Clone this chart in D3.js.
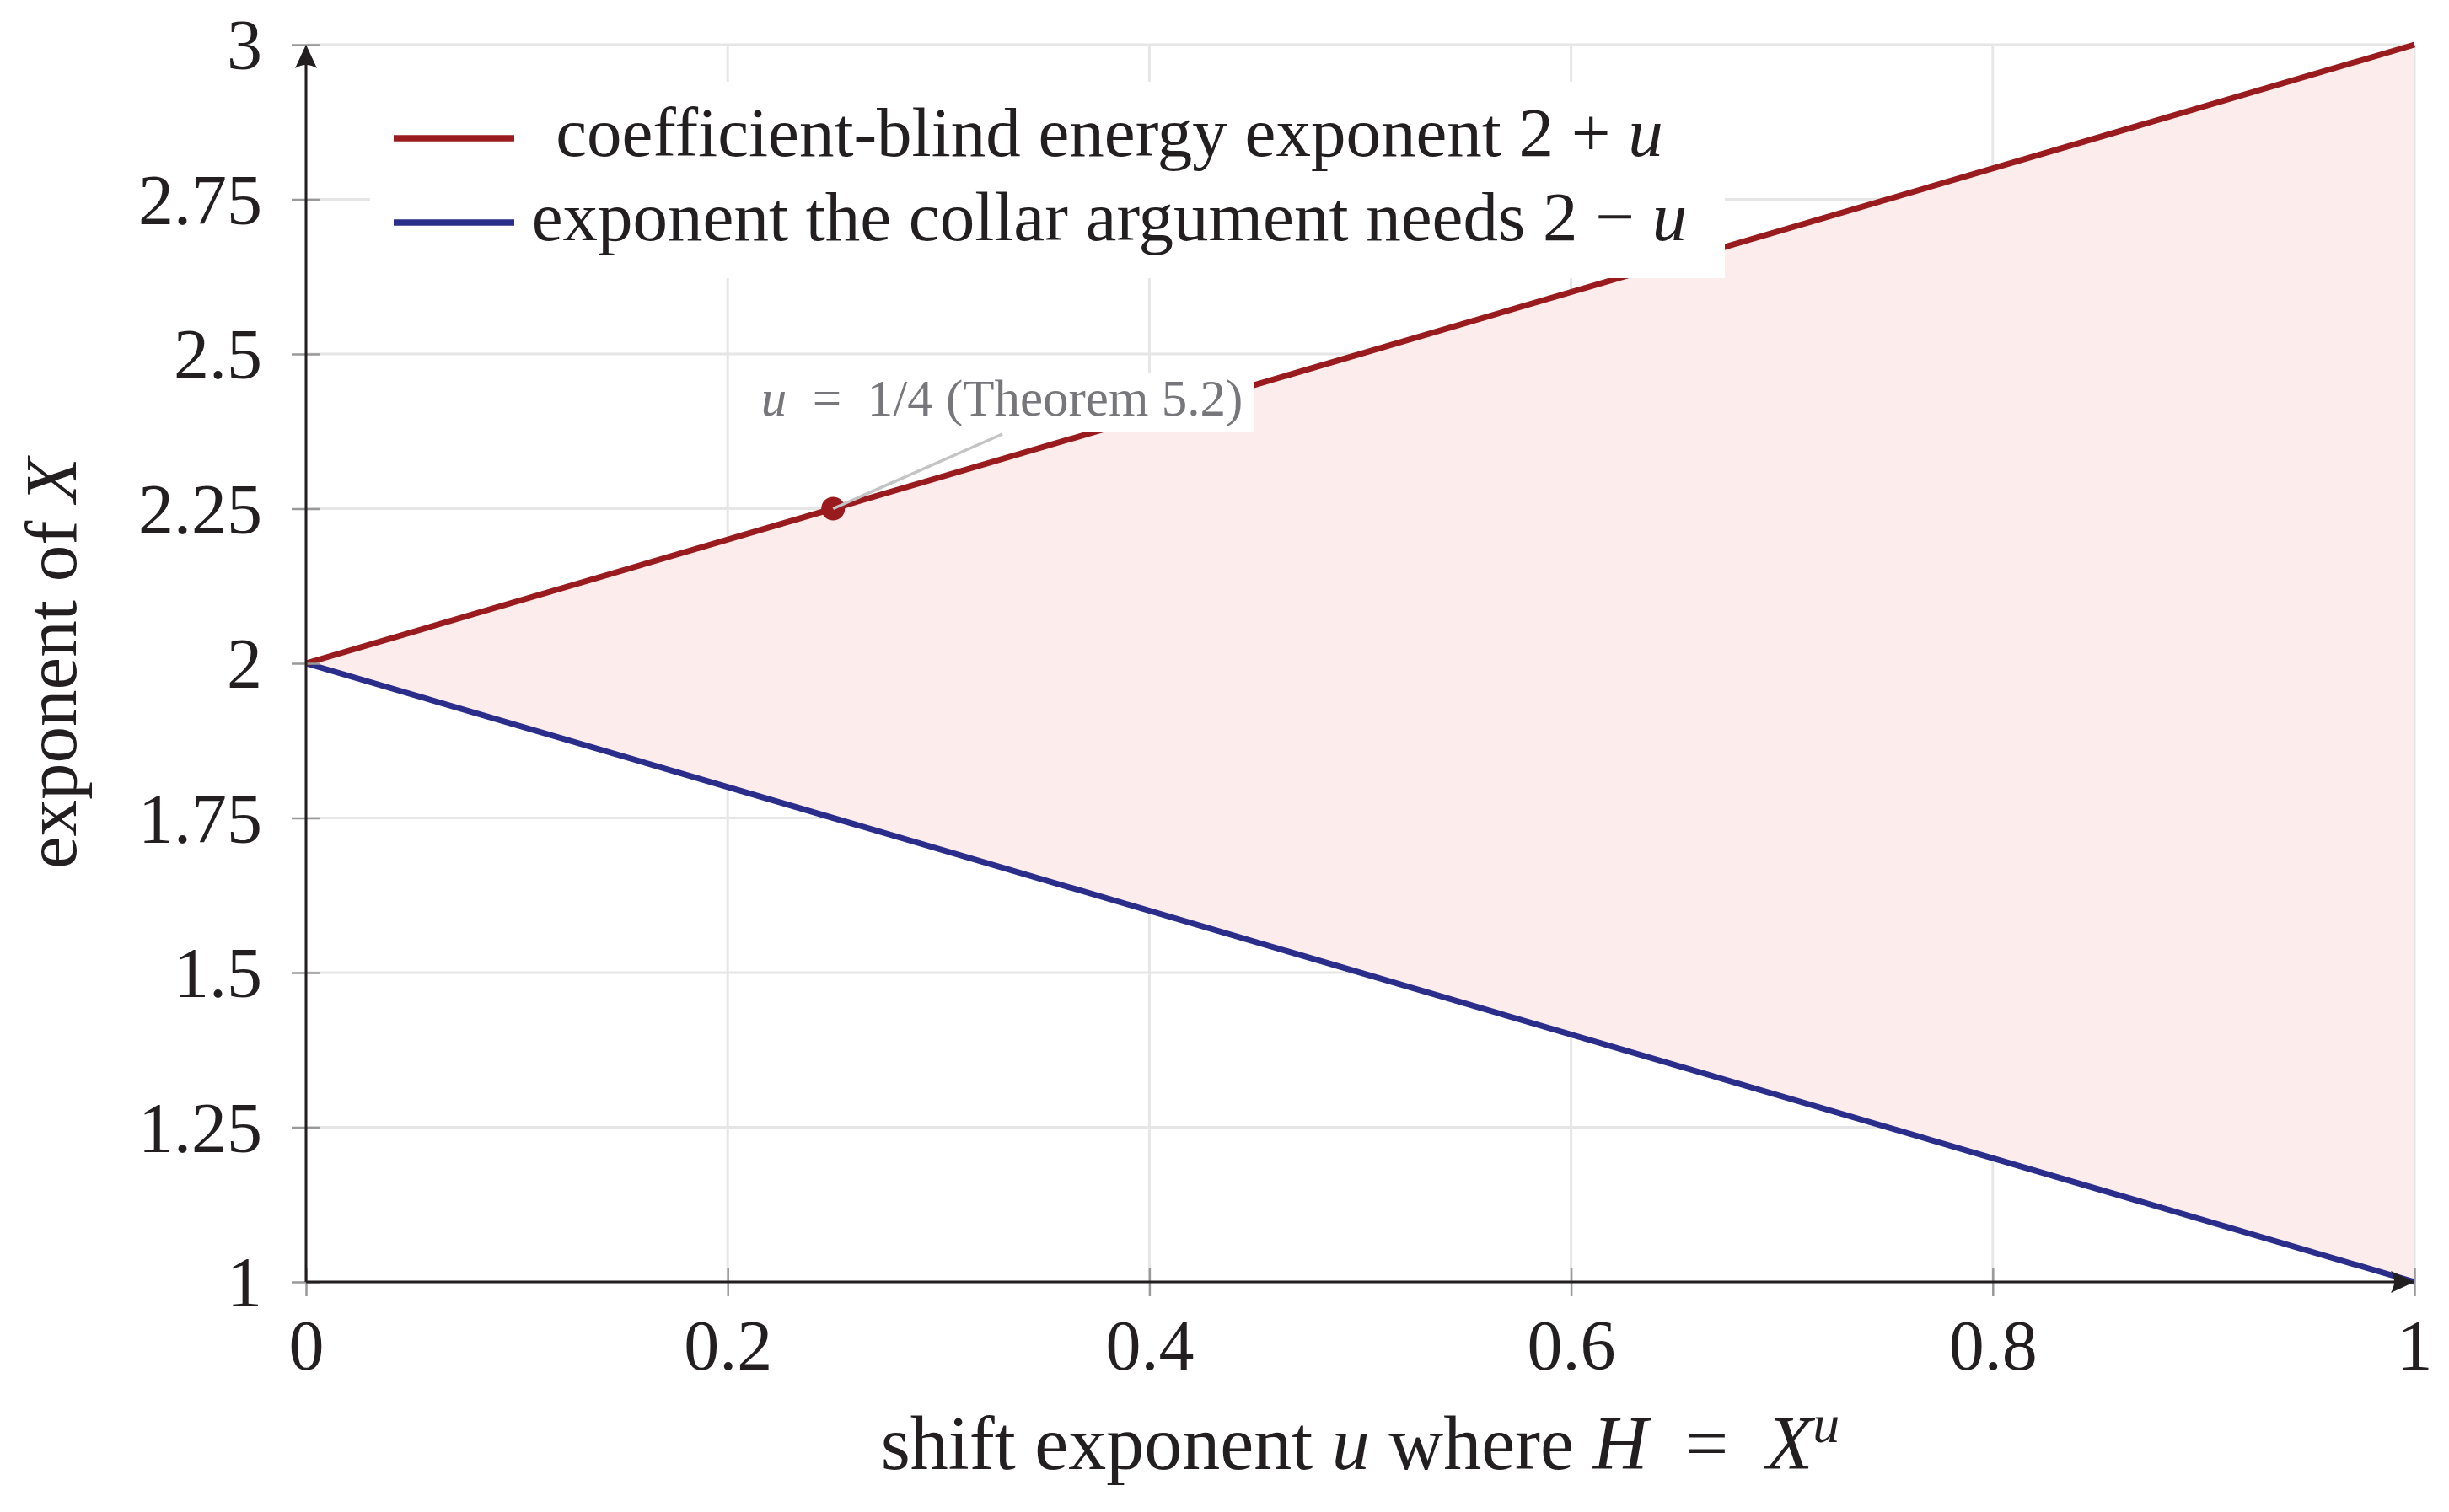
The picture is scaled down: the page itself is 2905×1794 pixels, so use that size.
<!DOCTYPE html>
<html>
<head>
<meta charset="utf-8">
<script src="https://cdn.jsdelivr.net/npm/d3@7"></script>
<style>
  body { margin: 0; background: #fff; }
  text { font-family: "Liberation Serif", "DejaVu Serif", serif; fill: #231f20; }
</style>
</head>
<body>
<svg id="chart" width="2905" height="1794"></svg>
<script>
var width = 2905,
    height = 1794,
    margin = {top: 53, right: 41, bottom: 273, left: 363};

// data
var uValues = [0, 1];
var blindExp = [2, 3];     // 2 + u
var collarExp = [2, 1];    // 2 - u
var markU = [0.25];
var markExp = [2.25];
var xTicks = [0, 0.2, 0.4, 0.6, 0.8, 1];
var yTicks = [1, 1.25, 1.5, 1.75, 2, 2.25, 2.5, 2.75, 3];
var legendLabels = ["coefficient-blind energy exponent 2 + ", "exponent the collar argument needs 2 \u2212 "];

var red = "#991b1e", blue = "#2a2d8a", fillPink = "#fcecec", ink = "#231f20";

var svg = d3.select("#chart");

var x = d3.scaleLinear().domain([0, 1]).range([margin.left, width - margin.right]);
var y = d3.scaleLinear().domain([1, 3]).range([height - margin.bottom, margin.top]);

// grid
var grid = svg.append("g").attr("class", "grid");
grid.selectAll(".gx").data(xTicks).enter().append("line")
  .attr("x1", function(d) { return x(d); }).attr("x2", function(d) { return x(d); })
  .attr("y1", y(1)).attr("y2", y(3))
  .attr("stroke", "#e6e6e6").attr("stroke-width", 3);
grid.selectAll(".gy").data(yTicks).enter().append("line")
  .attr("y1", function(d) { return y(d); }).attr("y2", function(d) { return y(d); })
  .attr("x1", x(0)).attr("x2", x(1))
  .attr("stroke", "#e6e6e6").attr("stroke-width", 3);

// shaded gap between the two exponents
var rows = uValues.map(function(u, i) { return {u: u, hi: blindExp[i], lo: collarExp[i]}; });
svg.append("path")
  .datum(rows)
  .attr("fill", fillPink)
  .attr("d", d3.area().x(function(d) { return x(d.u); })
    .y0(function(d) { return y(d.lo); }).y1(function(d) { return y(d.hi); }));

var line = d3.line().x(function(d) { return x(d[0]); }).y(function(d) { return y(d[1]); });
svg.append("path")
  .datum(uValues.map(function(u, i) { return [u, collarExp[i]]; }))
  .attr("fill", "none").attr("stroke", blue).attr("stroke-width", 7).attr("d", line);
svg.append("path")
  .datum(uValues.map(function(u, i) { return [u, blindExp[i]]; }))
  .attr("fill", "none").attr("stroke", red).attr("stroke-width", 7).attr("d", line);

// axes
var yAxis = svg.append("g")
  .attr("transform", "translate(" + x(0) + ",0)")
  .call(d3.axisLeft(y).tickValues(yTicks).tickFormat(d3.format("~g")).tickSizeOuter(0));
var xAxis = svg.append("g")
  .attr("transform", "translate(0," + y(1) + ")")
  .call(d3.axisBottom(x).tickValues(xTicks).tickFormat(d3.format("~g")).tickSizeOuter(0));

[yAxis, xAxis].forEach(function(a) {
  a.select(".domain").remove();
  a.selectAll("text").attr("font-family", null).attr("font-size", 84).attr("fill", ink);
  a.selectAll(".tick line").attr("stroke", "#999").attr("stroke-width", 2.5);
});
yAxis.selectAll(".tick line").attr("x1", -17).attr("x2", 17);
yAxis.selectAll(".tick text").attr("x", -52).attr("dy", "0.34em");
xAxis.selectAll(".tick line").attr("y1", -17).attr("y2", 17);
xAxis.selectAll(".tick text").attr("y", 104).attr("dy", 0);

// axis lines with arrow heads
svg.append("line")
  .attr("x1", x(0)).attr("x2", x(0)).attr("y1", y(1)).attr("y2", y(3) + 6)
  .attr("stroke", ink).attr("stroke-width", 3);
svg.append("line")
  .attr("x1", x(0)).attr("x2", x(1) - 6).attr("y1", y(1)).attr("y2", y(1))
  .attr("stroke", ink).attr("stroke-width", 3);
svg.append("path")
  .attr("transform", "translate(" + x(0) + "," + y(3) + ")")
  .attr("d", "M0,0 L-13,28 Q0,20 13,28 Z").attr("fill", ink);
svg.append("path")
  .attr("transform", "translate(" + x(1) + "," + y(1) + ") rotate(90)")
  .attr("d", "M0,0 L-13,28 Q0,20 13,28 Z").attr("fill", ink);

// axis titles
var xTitle = svg.append("text")
  .attr("x", (x(0) + x(1)) / 2).attr("y", 1743)
  .attr("text-anchor", "middle").attr("font-size", 90)
  .attr("xml:space", "preserve");
xTitle.append("tspan").text("shift exponent ");
xTitle.append("tspan").attr("font-style", "italic").text("u");
xTitle.append("tspan").text(" where ");
xTitle.append("tspan").attr("font-style", "italic").text("H");
xTitle.append("tspan").text("  =  ");
xTitle.append("tspan").attr("font-style", "italic").text("X");
xTitle.append("tspan").attr("font-style", "italic").attr("font-size", 64).attr("dy", -32).text("u");

var yTitle = svg.append("text")
  .attr("transform", "translate(90," + ((y(1) + y(3)) / 2) + ") rotate(-90)")
  .attr("text-anchor", "middle").attr("font-size", 87);
yTitle.append("tspan").text("exponent of ");
yTitle.append("tspan").attr("font-style", "italic").text("X");

// legend
var legend = svg.append("g").attr("class", "legend");
legend.append("rect")
  .attr("x", 439).attr("y", 97).attr("width", 2046 - 439).attr("height", 330 - 97)
  .attr("fill", "#fff");
var legendColors = [red, blue];
legendLabels.forEach(function(lab, i) {
  var ly = 164 + i * 100;
  legend.append("line")
    .attr("x1", 467).attr("x2", 610).attr("y1", ly).attr("y2", ly)
    .attr("stroke", legendColors[i]).attr("stroke-width", 7.5);
  var t = legend.append("text")
    .attr("x", 1316).attr("y", ly + 21)
    .attr("text-anchor", "middle").attr("font-size", 83)
    .attr("xml:space", "preserve");
  t.append("tspan").text(lab);
  t.append("tspan").attr("font-style", "italic").text("u");
});

// marked point and its note
var noteBox = {x0: 866, x1: 1487, y0: 442, y1: 513};
svg.selectAll(".mark").data(markU).enter().append("circle")
  .attr("cx", function(d) { return x(d); })
  .attr("cy", function(d, i) { return y(markExp[i]); })
  .attr("r", 14).attr("fill", red);
svg.append("line")
  .attr("x1", x(markU[0])).attr("y1", y(markExp[0]))
  .attr("x2", 1189).attr("y2", noteBox.y1 + 2)
  .attr("stroke", "#c4c4c4").attr("stroke-width", 3.5);
svg.append("rect")
  .attr("x", noteBox.x0).attr("y", noteBox.y0)
  .attr("width", noteBox.x1 - noteBox.x0).attr("height", noteBox.y1 - noteBox.y0)
  .attr("fill", "#fff");
var note = svg.append("text")
  .attr("x", (noteBox.x0 + noteBox.x1) / 2 + 12).attr("y", 493)
  .attr("text-anchor", "middle").attr("font-size", 61)
  .attr("xml:space", "preserve")
  .style("fill", "#77777b");
note.append("tspan").attr("font-style", "italic").text("u");
note.append("tspan").text("  =  1/4 (Theorem 5.2)");
</script>
</body>
</html>
